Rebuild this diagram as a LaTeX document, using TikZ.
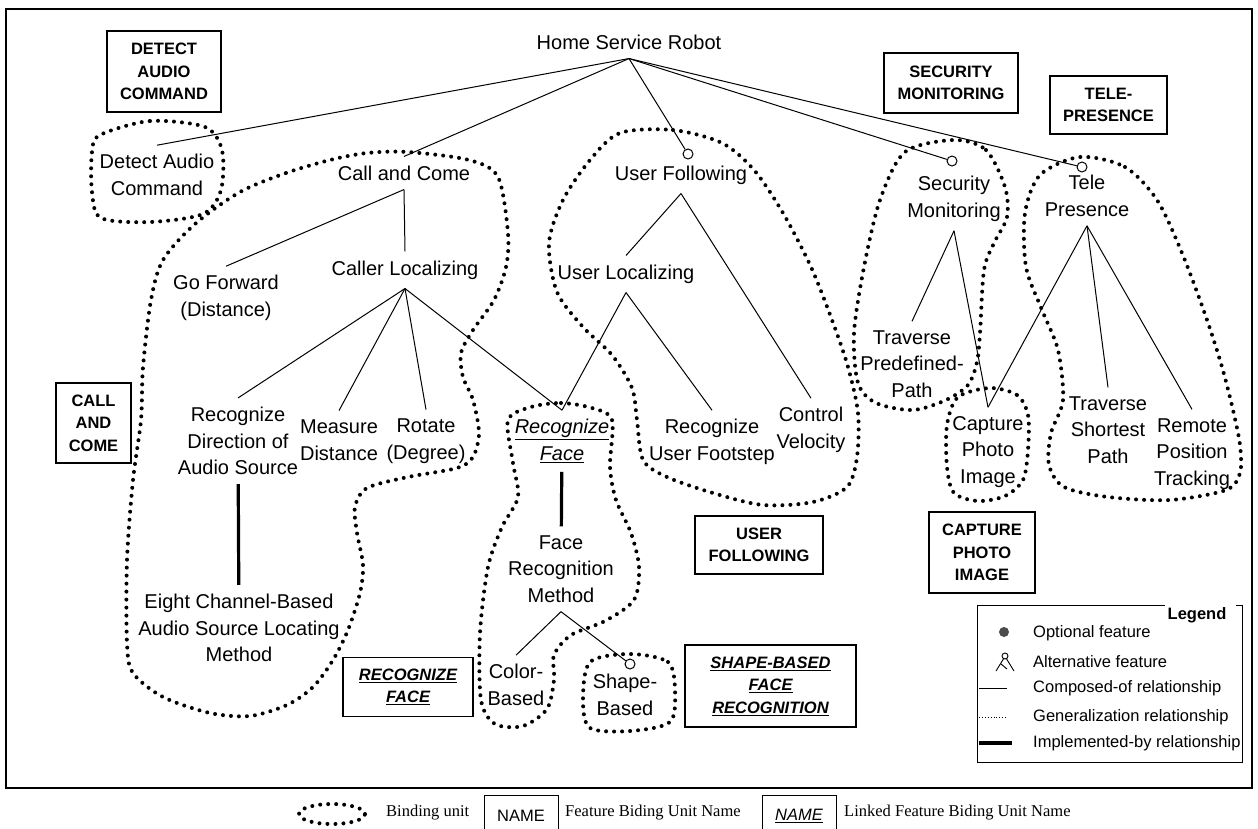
\documentclass[tikz,border=0pt]{standalone}
\usepackage{fontspec}
\setmainfont{Liberation Sans}
\newfontfamily\legserif{Liberation Serif}
\usetikzlibrary{positioning,calc}
\tikzset{>=latex}
\tikzset{
  feat/.style={font=\fontsize{20}{26.5}\selectfont, align=center, inner xsep=2pt, inner ysep=9pt},
  unitname/.style={draw, line width=1.1pt, font=\fontsize{16.5}{22.5}\selectfont\bfseries, align=center, inner sep=2pt},
  opt/.style={draw, circle, minimum size=10pt, inner sep=0pt, line width=1pt, fill=white},
  bunit/.style={line width=4pt, dash pattern=on 0pt off 8pt, line cap=round},
  rel/.style={line width=1pt},
  impl/.style={line width=3.2pt},
  legtext/.style={font=\fontsize{16.5}{20}\selectfont, anchor=west, inner sep=0pt},
  serleg/.style={font=\legserif\fontsize{16.5}{20}\selectfont, anchor=west, inner sep=0pt}
}

\begin{document}
\begin{tikzpicture}[x=1pt, y=-1pt, node distance=2cm]
        \useasboundingbox (0,0) rectangle (1258,828);

        % frame
        \draw[line width=1.2pt] (6,9) rectangle (1252,788);

        % features
        \node[feat] (hsr) at (629,42) {Home Service Robot};
        \node[feat] (dac) at (157,175) {Detect Audio\\Command};
        \node[feat] (cac) at (404,173) {Call and Come};
        \node[feat] (uf) at (681,175) {User Following};
        \node[feat] (sm) at (954,199) {Security\\Monitoring};
        \node[feat] (tp) at (1087,196) {Tele\\Presence};
        \node[opt] (ufo) at (688,154) {};
        \node[opt] (smo) at (952,161) {};
        \node[opt] (tpo) at (1082,167) {};

        \node[feat] (gf) at (226,298) {Go Forward\\(Distance)};
        \node[feat] (cl) at (405,270) {Caller Localizing};
        \node[feat] (ul) at (626,274) {User Localizing};

        \node[feat] (rds) at (238,441) {Recognize\\Direction of\\Audio Source};
        \node[feat] (md) at (339,440) {Measure\\Distance};
        \node[feat] (rot) at (426,441) {Rotate\\(Degree)};
        \node[feat] (rf) at (562,441) {\textit{\underline{Recognize}}\\\textit{\underline{Face}}};
        \node[feat] (rus) at (712,442) {Recognize\\User Footstep};
        \node[feat] (cv) at (811,430) {Control\\Velocity};
        \node[feat] (tpp) at (912,364) {Traverse\\Predefined-\\Path};
        \node[feat] (cpi) at (988,452) {Capture\\Photo\\Image};
        \node[feat] (tsp) at (1108,430) {Traverse\\Shortest\\Path};
        \node[feat] (rpt) at (1192,454) {Remote\\Position\\Tracking};

        \node[feat] (ecb) at (239,628) {Eight Channel-Based\\Audio Source Locating\\Method};
        \node[feat] (frm) at (561,569) {Face\\Recognition\\Method};
        \node[feat] (cb) at (516,685) {Color-\\Based};
        \node[feat] (sb) at (625,695) {Shape-\\Based};
        \node[opt] (sbo) at (630,664) {};

        % binding unit names
        \node[unitname, minimum width=114pt, minimum height=81pt] (bdac) at (164,71.5) {DETECT\\AUDIO\\COMMAND};
        \node[unitname, minimum width=134pt, minimum height=60pt] (bsm) at (951,83) {SECURITY\\MONITORING};
        \node[unitname, minimum width=117pt, minimum height=58pt] (btp) at (1108.5,105) {TELE-\\PRESENCE};
        \node[unitname, minimum width=75pt, minimum height=80pt] (bcac) at (93.5,423) {CALL\\AND\\COME};
        \node[unitname, minimum width=128pt, minimum height=58pt] (buf) at (759,545) {USER\\FOLLOWING};
        \node[unitname, minimum width=106pt, minimum height=81pt] (bcpi) at (982,552.5) {CAPTURE\\PHOTO\\IMAGE};
        \node[unitname, minimum width=130pt, minimum height=59pt] (brf) at (408,687) {\textit{\underline{RECOGNIZE}}\\\textit{\underline{FACE}}};
        \node[unitname, minimum width=171pt, minimum height=82pt] (bsb) at (770.5,686) {\textit{\underline{SHAPE-BASED}}\\\textit{\underline{FACE}}\\\textit{\underline{RECOGNITION}}};

        % relationships
        \draw[rel] (hsr.south) -- (dac.north);
        \draw[rel] (hsr.south) -- (cac.north);
        \draw[rel] (hsr.south) -- (ufo);
        \draw[rel] (hsr.south) -- (smo);
        \draw[rel] (hsr.south) -- (tpo);
        \draw[rel] (cac.south) -- (gf.north);
        \draw[rel] (cac.south) -- (cl.north);
        \draw[rel] (uf.south) -- (ul.north);
        \draw[rel] (uf.south) -- (cv.north);
        \draw[rel] (cl.south) -- (rds.north);
        \draw[rel] (cl.south) -- (md.north);
        \draw[rel] (cl.south) -- (rot.north);
        \draw[rel] (cl.south) -- (rf.north);
        \draw[rel] (ul.south) -- (rf.north);
        \draw[rel] (ul.south) -- (rus.north);
        \draw[rel] (sm.south) -- (tpp.north);
        \draw[rel] (sm.south) -- (cpi.north);
        \draw[rel] (tp.south) -- (cpi.north);
        \draw[rel] (tp.south) -- (tsp.north);
        \draw[rel] (tp.south) -- (rpt.north);
        \draw[rel] (frm.south) -- (cb.north);
        \draw[rel] (frm.south) -- (sbo);
        \draw[impl] (rds) -- (ecb);
        \draw[impl] (rf) -- (frm);

        % binding units
        \draw[bunit] plot[smooth cycle] coordinates {(100,135) (150,121) (205,127) (222,150) (221,190) (203,214) (150,222) (101,218) (92,192) (92,152)};
        \draw[bunit] plot[smooth cycle] coordinates {(240,192) (286,173) (330,160) (367,153) (408,152) (469,160) (498,177) (508,233) (506,267) (494,300) (473,330) (461,353) (463,377) (473,400) (479,433) (473,457) (457,468) (408,477) (367,488) (355,507) (357,533) (363,565) (360,593) (348,630) (333,660) (313,687) (287,705) (250,716) (210,713) (163,697) (133,673) (127,643) (127,560) (133,480) (141,420) (143,367) (151,300) (163,260) (195,224)};
        \draw[bunit] plot[smooth cycle] coordinates {(620,133) (673,130) (722,143) (754,170) (783,213) (811,267) (832,320) (848,367) (858,413) (857,457) (847,487) (813,502) (763,505) (713,493) (667,477) (643,460) (637,420) (632,388) (612,355) (583,327) (557,292) (549,243) (563,200) (590,160)};
        \draw[bunit] plot[smooth cycle] coordinates {(954,140) (986,150) (1005,187) (1007,217) (994,243) (984,270) (980,333) (977,362) (968,385) (946,400) (913,410) (876,403) (858,383) (854,333) (864,267) (880,200) (905,152)};
        \draw[bunit] plot[smooth cycle] coordinates {(990,388) (1017,395) (1028,415) (1028,450) (1023,480) (1005,496) (978,501) (954,493) (947,467) (947,425) (958,397)};
        \draw[bunit] plot[smooth cycle] coordinates {(1080,157) (1125,167) (1157,200) (1182,253) (1206,317) (1222,367) (1233,410) (1240,445) (1240,473) (1226,490) (1170,500) (1108,497) (1064,487) (1049,465) (1051,433) (1063,400) (1058,350) (1042,310) (1026,267) (1025,213) (1040,175)};
        \draw[bunit] plot[smooth cycle] coordinates {(531,407) (561,403) (592,408) (612,420) (610,467) (616,500) (631,533) (639,567) (634,600) (605,621) (571,635) (554,655) (554,680) (547,709) (523,726) (495,724) (481,700) (480,633) (488,567) (502,527) (518,497) (513,463) (508,420)};
        \draw[bunit] plot[smooth cycle] coordinates {(630,654) (668,662) (675,690) (670,722) (630,731) (590,728) (583,700) (590,662)};

        % legend
        \draw[line width=1pt] (1165,605) -- (977,605) -- (977,762) -- (1242,762) -- (1242,605) -- (1236,605);
        \node[font=\fontsize{16.5}{20}\selectfont\bfseries] (leg) at (1197,615) {Legend};
        \node[circle, fill=black!70, minimum size=10pt, inner sep=0pt] (lopt) at (1004,632) {};
        \node[legtext] (topt) at (1033,633) {Optional feature};
        \coordinate (lalt) at (1005,656);
        \draw[line width=0.9pt] ($(lalt)+(-9,15)$) -- ($(lalt)+(-1,2)$) ($(lalt)+(1,2)$) -- ($(lalt)+(9,15)$);
        \draw[line width=0.9pt] (lalt) circle (3pt);
        \draw[line width=0.9pt] ($(lalt)+(-4,8)$) -- ($(lalt)+(2,13)$);
        \node[legtext] (talt) at (1033,662) {Alternative feature};
        \coordinate (lcomp) at (979,688);
        \draw[line width=0.9pt] (lcomp) -- ++(28,0);
        \node[legtext] (tcomp) at (1033,688) {Composed-of relationship};
        \coordinate (lgen) at (979,717);
        \draw[line width=0.9pt, dotted] (lgen) -- ++(28,0);
        \node[legtext] (tgen) at (1033,717) {Generalization relationship};
        \coordinate (limp) at (979,743);
        \draw[impl] (limp) -- ++(33,0);
        \node[legtext] (timp) at (1033,743) {Implemented-by relationship};

        % key below the frame
        \draw[bunit] (332,814) ellipse (33pt and 10pt);
        \node[serleg] (tbu) at (386,813) {Binding unit};
        \node[draw, line width=1pt, font=\fontsize{16.5}{20}\selectfont, minimum width=74pt, minimum height=42pt] (nm) at (521,816) {NAME};
        \node[serleg] (tnm) at (565,813) {Feature Biding Unit Name};
        \node[draw, line width=1pt, font=\fontsize{16.5}{20}\selectfont\itshape, minimum width=74pt, minimum height=42pt] (lnm) at (799,816) {\underline{NAME}};
        \node[serleg] (tlnm) at (844,813) {Linked Feature Biding Unit Name};

\end{tikzpicture}
\end{document}
